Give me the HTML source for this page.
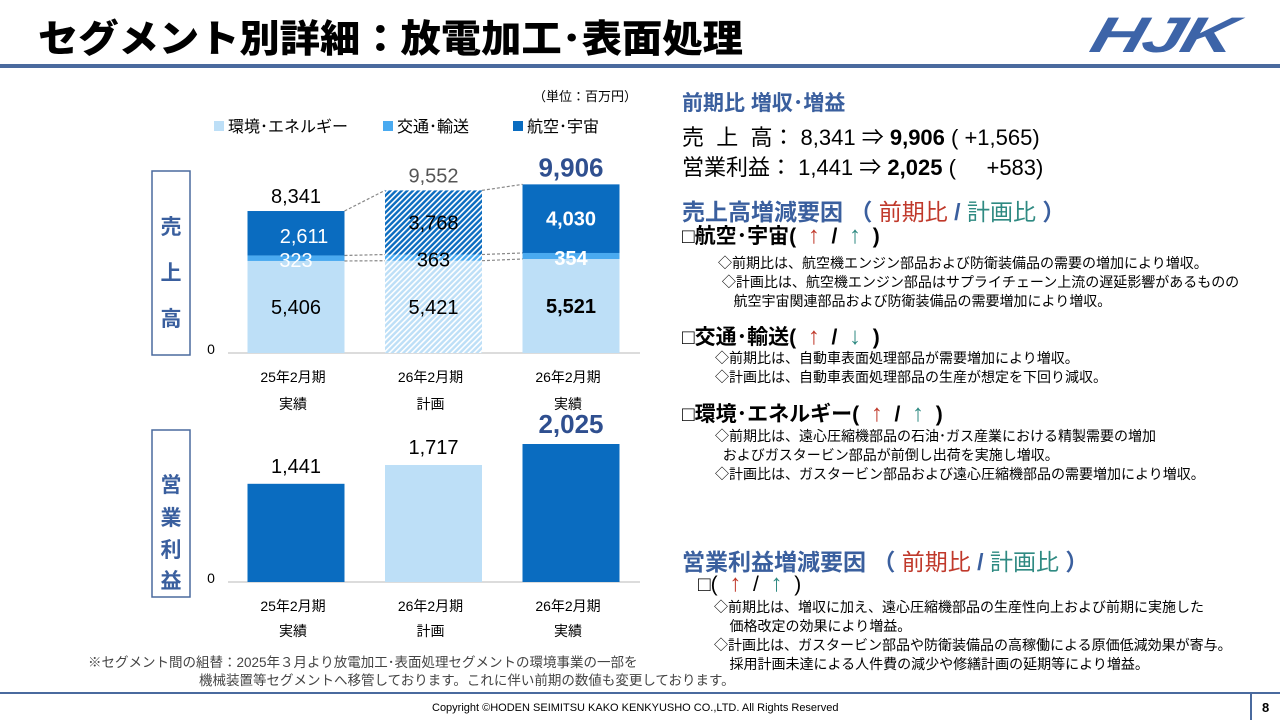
<!DOCTYPE html>
<html><head><meta charset="utf-8">
<style>
*{margin:0;padding:0;box-sizing:border-box}
body{width:1280px;height:720px;background:#fff;position:relative;overflow:hidden;font-family:"Liberation Sans","Noto Sans CJK JP",sans-serif;color:#000}
.a{position:absolute;white-space:nowrap}
.sq{transform-origin:left top}
.blue{color:#3a5f9e}.red{color:#c0392b}.teal{color:#2f8a82}
.ar{font-weight:normal;font-size:24px}
</style></head><body>
<div class="a sq" style="left:38px;top:8px;font-size:38px;font-weight:900;transform:scaleX(1.06)">セグメント別詳細：放電加工･表面処理</div>
<div class="a" style="left:1100px;top:6px;font-size:50px;font-weight:900;font-style:italic;color:#3d64a8;letter-spacing:-2px;transform:skewX(-15deg) scaleX(1.5);transform-origin:left top">HJK</div>
<div class="a" style="left:0;top:64px;width:1280px;height:4px;background:#4a6a9e"></div>

<svg class="a" style="left:0;top:0" width="660" height="690" id="ch"></svg>

<div class="a" style="left:682px;top:87px;font-size:21px;font-weight:bold;color:#3a5f9e">前期比 増収･増益</div>
<div class="a" style="left:682px;top:120px;font-size:22px">売&nbsp;&nbsp;上&nbsp;&nbsp;高： 8,341 ⇒ <b>9,906</b> ( +1,565)</div>
<div class="a" style="left:682px;top:150px;font-size:22px">営業利益： 1,441 ⇒ <b>2,025</b> (&nbsp;&nbsp;&nbsp;&nbsp;&nbsp;+583)</div>

<div class="a" style="left:682px;top:193px;font-size:23px;font-weight:bold;color:#3a5f9e">売上高増減要因 （ <span class="red" style="font-weight:normal">前期比</span> / <span class="teal" style="font-weight:normal">計画比</span> ）</div>
<div class="a" style="left:682px;top:220px;font-size:21px;font-weight:bold">□航空･宇宙(&nbsp;&nbsp;<span class="red ar">↑</span>&nbsp;&nbsp;/&nbsp;&nbsp;<span class="teal ar">↑</span>&nbsp;&nbsp;)</div>
<div class="a sq" style="left:718px;top:254px;font-size:14px;line-height:19px">◇前期比は、航空機エンジン部品および防衛装備品の需要の増加により増収。<br>&nbsp;◇計画比は、航空機エンジン部品はサプライチェーン上流の遅延影響があるものの<br>&nbsp;&nbsp;&nbsp;&nbsp;航空宇宙関連部品および防衛装備品の需要増加により増収。</div>
<div class="a" style="left:682px;top:321px;font-size:21px;font-weight:bold">□交通･輸送(&nbsp;&nbsp;<span class="red ar">↑</span>&nbsp;&nbsp;/&nbsp;&nbsp;<span class="teal ar">↓</span>&nbsp;&nbsp;)</div>
<div class="a sq" style="left:715px;top:349px;font-size:14px;line-height:19px">◇前期比は、自動車表面処理部品が需要増加により増収。<br>◇計画比は、自動車表面処理部品の生産が想定を下回り減収。</div>
<div class="a" style="left:682px;top:398px;font-size:21px;font-weight:bold">□環境･エネルギー(&nbsp;&nbsp;<span class="red ar">↑</span>&nbsp;&nbsp;/&nbsp;&nbsp;<span class="teal ar">↑</span>&nbsp;&nbsp;)</div>
<div class="a sq" style="left:715px;top:427px;font-size:14px;line-height:19px">◇前期比は、遠心圧縮機部品の石油･ガス産業における精製需要の増加<br>&nbsp;&nbsp;およびガスタービン部品が前倒し出荷を実施し増収。<br>◇計画比は、ガスタービン部品および遠心圧縮機部品の需要増加により増収。</div>

<div class="a" style="left:682px;top:543px;font-size:23px;font-weight:bold;color:#3a5f9e">営業利益増減要因 （ <span class="red" style="font-weight:normal">前期比</span> / <span class="teal" style="font-weight:normal">計画比</span> ）</div>
<div class="a" style="left:698px;top:570px;font-size:21px">□(&nbsp;&nbsp;<span class="red ar">↑</span>&nbsp;&nbsp;/&nbsp;&nbsp;<span class="teal ar">↑</span>&nbsp;&nbsp;)</div>
<div class="a sq" style="left:714px;top:598px;font-size:14px;line-height:19px">◇前期比は、増収に加え、遠心圧縮機部品の生産性向上および前期に実施した<br>&nbsp;&nbsp;&nbsp;&nbsp;価格改定の効果により増益。<br>◇計画比は、ガスタービン部品や防衛装備品の高稼働による原価低減効果が寄与。<br>&nbsp;&nbsp;&nbsp;&nbsp;採用計画未達による人件費の減少や修繕計画の延期等により増益。</div>

<div class="a" style="left:88px;top:654px;font-size:13.5px;line-height:18px;color:#444">※セグメント間の組替：2025年３月より放電加工･表面処理セグメントの環境事業の一部を</div>
<div class="a" style="left:199px;top:672px;font-size:13.5px;line-height:18px;color:#444">機械装置等セグメントへ移管しております。これに伴い前期の数値も変更しております。</div>
<div class="a" style="left:0;top:692px;width:1280px;height:2px;background:#4a6a9e"></div>
<div class="a" style="left:432px;top:702px;font-size:11px">Copyright ©HODEN SEIMITSU KAKO KENKYUSHO CO.,LTD. All Rights Reserved</div>
<div class="a" style="left:1250px;top:694px;width:2px;height:26px;background:#4a6a9e"></div>
<div class="a" style="left:1262px;top:700px;font-size:13px;font-weight:bold">8</div>

<script>
const periods=["25年2月期","26年2月期","26年2月期"];
const periodSub=["実績","計画","実績"];
const energy=[5406,5421,5521];
const transport=[323,363,354];
const aero=[2611,3768,4030];
const totals=[8341,9552,9906];
const profit=[1441,1717,2025];

const NS="http://www.w3.org/2000/svg";
const svg=document.getElementById('ch');
function mk(t,a,p){const e=document.createElementNS(NS,t);for(const k in a)e.setAttribute(k,a[k]);(p||svg).appendChild(e);return e;}
const defs=mk('defs',{});
defs.innerHTML='<pattern id="hd" width="4" height="4" patternUnits="userSpaceOnUse" patternTransform="rotate(45)"><rect width="4" height="4" fill="#0a6cc0"/><rect width="1.6" height="4" fill="#fff"/></pattern><pattern id="hl" width="4" height="4" patternUnits="userSpaceOnUse" patternTransform="rotate(45)"><rect width="4" height="4" fill="#bddff7"/><rect width="1.6" height="4" fill="#fff"/></pattern><pattern id="hm" width="4" height="4" patternUnits="userSpaceOnUse" patternTransform="rotate(45)"><rect width="4" height="4" fill="#4aaaf0"/><rect width="1.6" height="4" fill="#fff"/></pattern>';
const xc=i=>296+i*137.5, bw=97;
const base1=353, sc1=142/8341;
const y1=v=>base1-v*sc1;
const base2=582, sc2=138/2025;
const y2=v=>base2-v*sc2;
const F='"Liberation Sans","Noto Sans CJK JP",sans-serif';
function txt(x,y,s,o){const e=mk('text',Object.assign({x:x,y:y,'text-anchor':'middle','font-family':F,'font-size':20},o||{}));e.textContent=s;return e;}

let t=txt(637,101,'（単位：百万円）',{'text-anchor':'end','font-size':13});

const legs=[["環境･エネルギー","#bddff7",214],["交通･輸送","#4aaaf0",383],["航空･宇宙","#0a6cc0",513]];
legs.forEach(l=>{const g=mk('g',{});

mk('rect',{x:l[2],y:121,width:10,height:10,fill:l[1]},g);
const e=mk('text',{x:l[2]+14,y:132,'font-family':F,'font-size':16},g);e.textContent=l[0];});

[[152,171,184,'売上高',[226,272,318]],[152,430,167,'営業利益',[484,517,549,580]]].forEach((s,k)=>{
const r=mk('rect',{x:s[0],y:s[1],width:38,height:s[2],fill:'#fff',stroke:'#4a6a9e','stroke-width':1.5});

[...s[3]].forEach((c,j)=>txt(171,s[4][j]+8,c,{'font-size':21,'font-weight':'bold',fill:'#3a5f9e'}));});

[base1,base2].forEach((b,k)=>{const l=mk('line',{x1:228,x2:640,y1:b,y2:b,stroke:'#d0d0d0','stroke-width':1.5});

txt(211,b+1,'0',{'font-size':14});});

for(let i=0;i<2;i++){
 const xa=xc(i)+bw/2, xb=xc(i+1)-bw/2;
 [[totals[i],totals[i+1]],[energy[i]+transport[i],energy[i+1]+transport[i+1]],[energy[i],energy[i+1]]].forEach(p=>{
  const l=mk('line',{x1:xa,x2:xb,y1:y1(p[0]),y2:y1(p[1]),stroke:'#888','stroke-width':1.2,'stroke-dasharray':'3,2'});
  });
}
periods.forEach((p,i)=>{
 const plan=i===1, x=xc(i)-bw/2;
 const segs=[[0,energy[i],plan?'url(#hl)':'#bddff7','bar-energy'],[energy[i],transport[i],plan?'url(#hm)':'#4aaaf0','bar-transport'],[energy[i]+transport[i],aero[i],plan?'url(#hd)':'#0a6cc0','bar-aero']];
 segs.forEach(s=>{const r=mk('rect',{x:x,y:y1(s[0]+s[1]),width:bw,height:s[1]*sc1,fill:s[2]});
  });
 const bold=i===2?'bold':'normal';
 txt(xc(i),y1(energy[i]/2)+7,energy[i].toLocaleString('en-US'),{'font-weight':bold});
 txt(xc(i),y1(energy[i]+transport[i]/2)+9,transport[i].toLocaleString('en-US'),{fill:plan?'#000':'#fff','font-weight':bold});
 txt(xc(i)+(i===0?8:0),y1(energy[i]+transport[i]+aero[i]/2)+(i===0?10:7),aero[i].toLocaleString('en-US'),{fill:plan?'#000':'#fff','font-weight':bold});
 txt(xc(i),y1(totals[i])-8,totals[i].toLocaleString('en-US'),i===2?{'font-size':26,'font-weight':'bold',fill:'#2f4f8f'}:(plan?{fill:'#555'}:{}));
 txt(xc(i)-3,382,p,{'font-size':14});txt(xc(i)-3,409,periodSub[i],{'font-size':14});
 const r=mk('rect',{x:x,y:y2(profit[i]),width:bw,height:profit[i]*sc2,fill:plan?'#bddff7':'#0a6cc0'});
 
 txt(xc(i),y2(profit[i])-11,profit[i].toLocaleString('en-US'),i===2?{'font-size':26,'font-weight':'bold',fill:'#2f4f8f'}:{});
 txt(xc(i)-3,611,p,{'font-size':14});txt(xc(i)-3,636,periodSub[i],{'font-size':14});
});
</script>
</body></html>
